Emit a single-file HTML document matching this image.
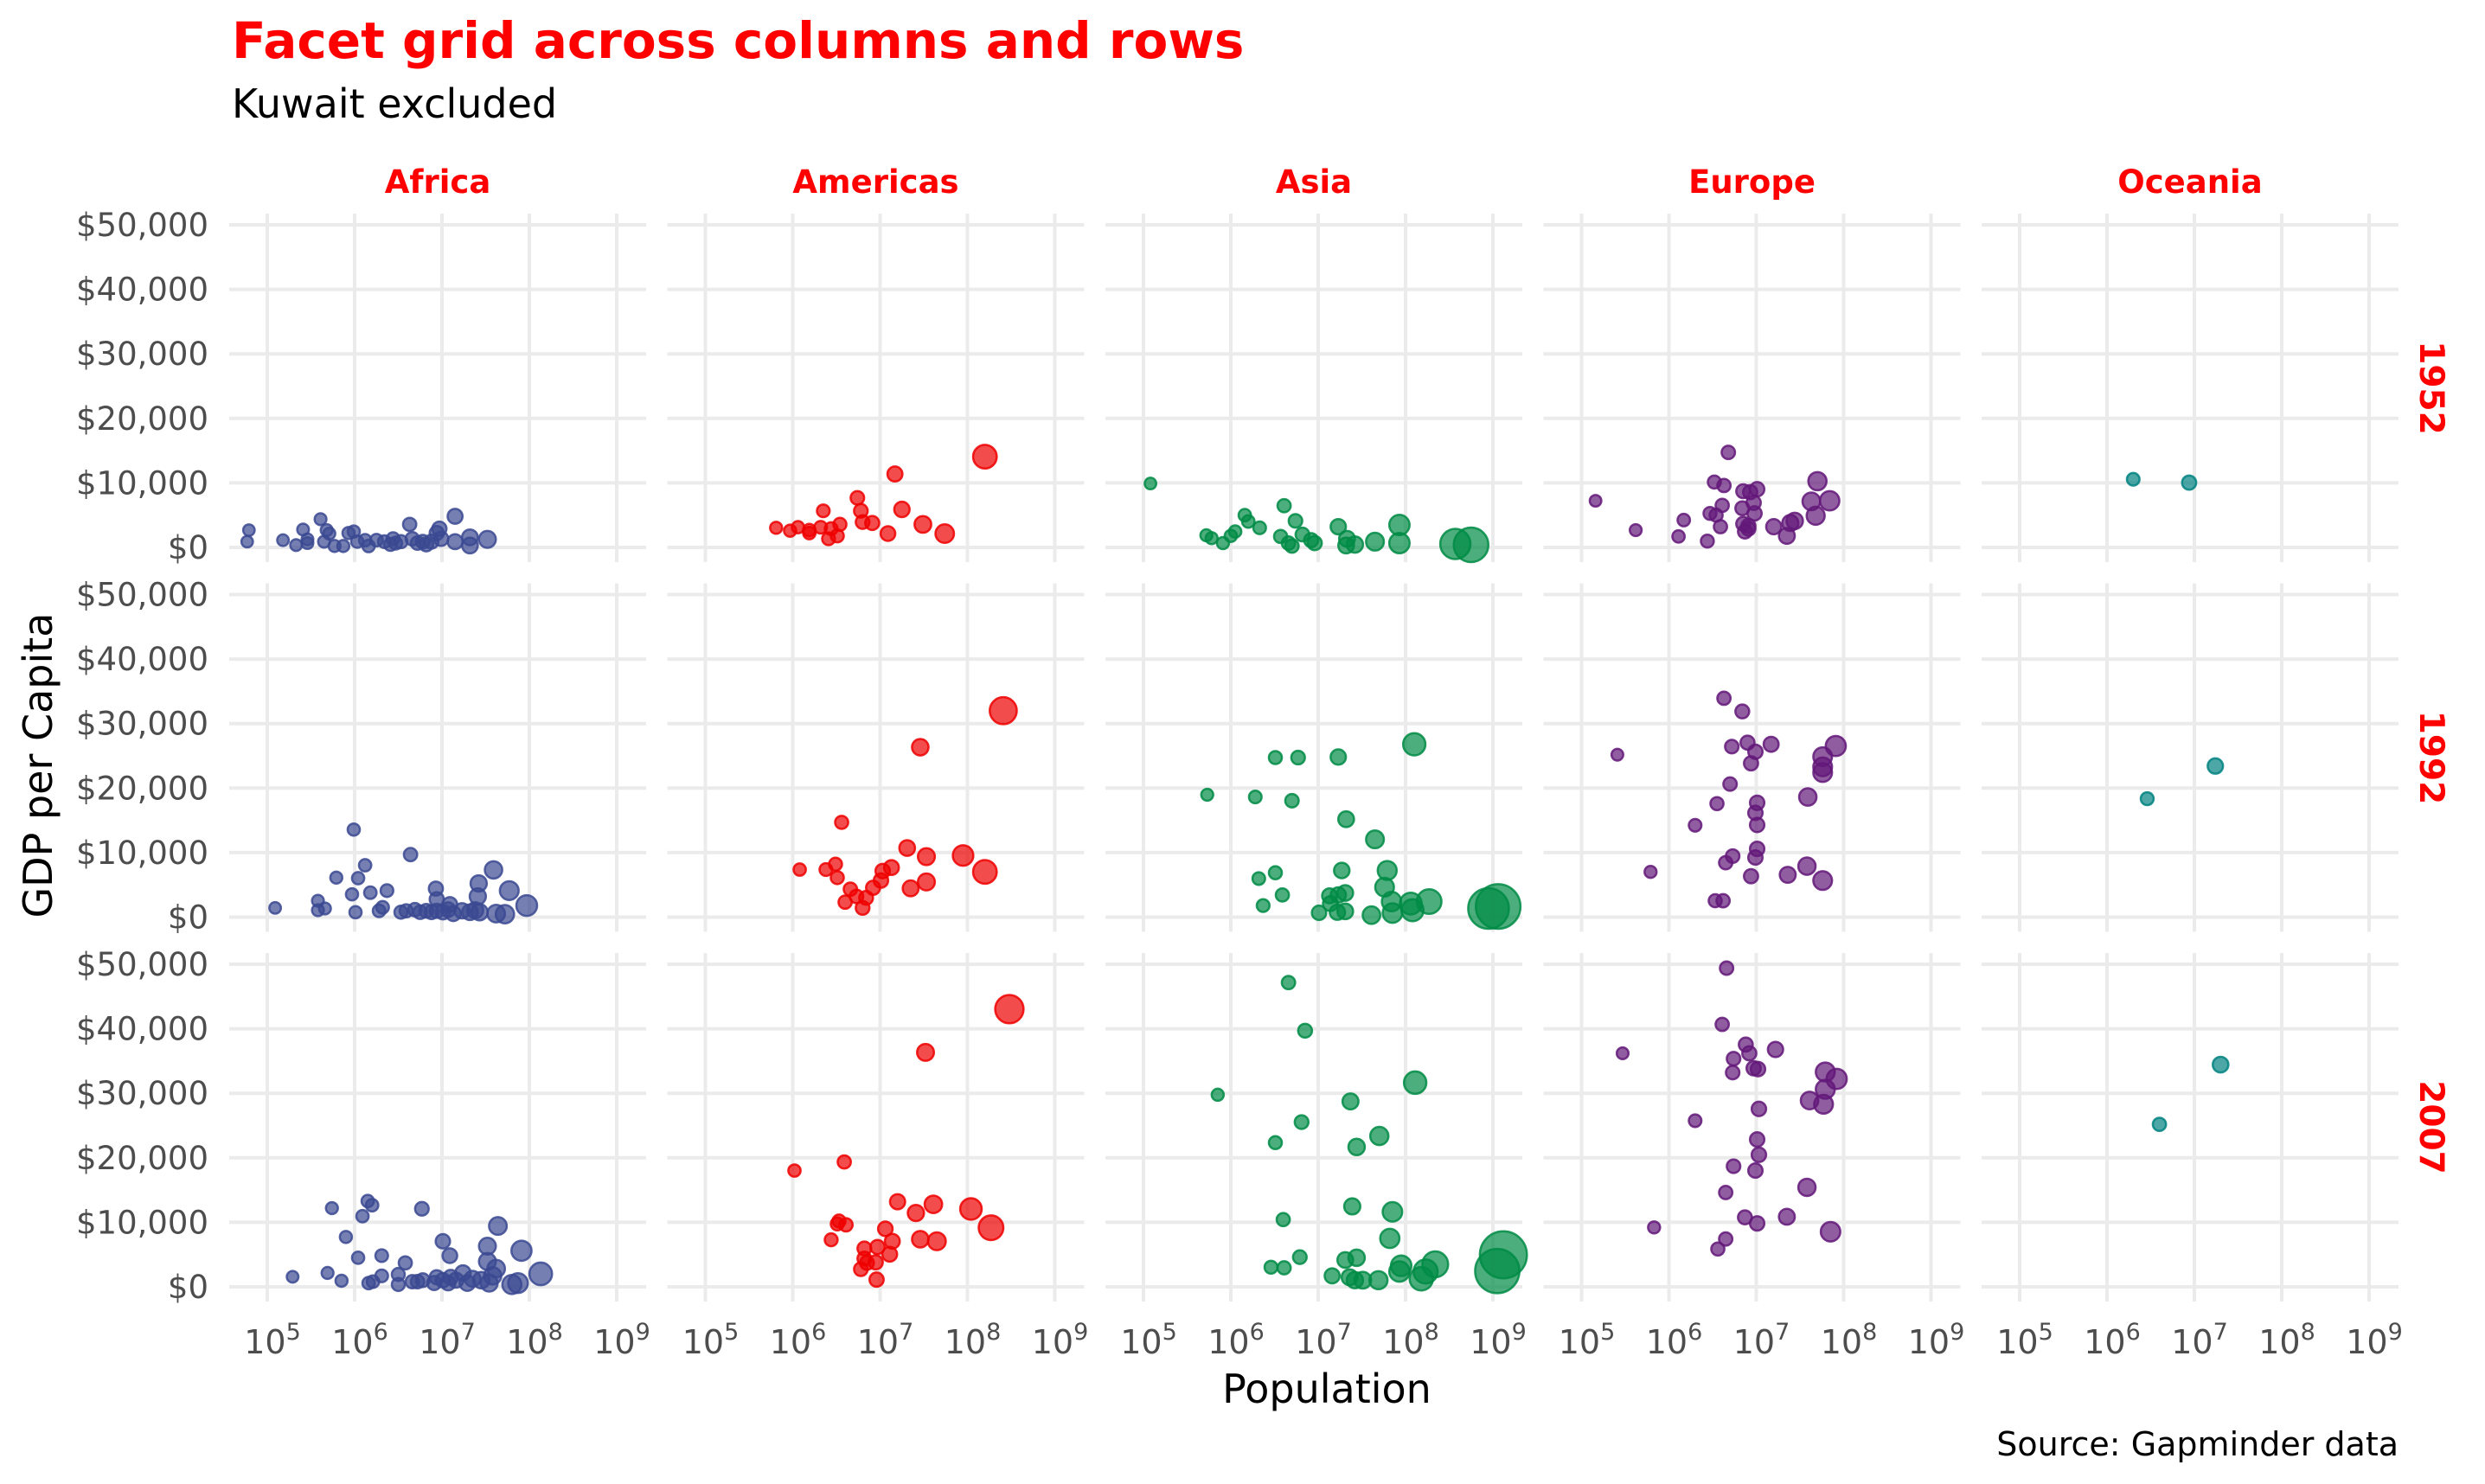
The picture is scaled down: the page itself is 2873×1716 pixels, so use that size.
<!DOCTYPE html>
<html><head><meta charset="utf-8">
<style>
html,body{margin:0;padding:0;background:#fff;}
svg{display:block;font-family:"DejaVu Sans","Liberation Sans",sans-serif;}
</style></head>
<body>
<svg id="chart" width="2873" height="1716" viewBox="0 0 2873 1716" xmlns="http://www.w3.org/2000/svg">
<rect width="2873" height="1716" fill="#fff"/>
<text x="268" y="67" font-size="58" font-weight="bold" fill="#FF0000">Facet grid across columns and rows</text>
<text x="268" y="136" font-size="46" fill="#000">Kuwait excluded</text>
<text x="1534" y="1622" font-size="46" fill="#000" text-anchor="middle">Population</text>
<text transform="translate(60,885) rotate(-90)" font-size="46" fill="#000" text-anchor="middle">GDP per Capita</text>
<text x="2773" y="1683" font-size="38" fill="#000" text-anchor="end">Source: Gapminder data</text>
<g id="panels"></g>
</svg>
<script>
const continents = ["Africa","Americas","Asia","Europe","Oceania"];
const years = ["1952","1992","2007"];
const colors = ["#3B4992","#EE0000","#008B45","#631879","#008280"];
const yTicks = [0,10000,20000,30000,40000,50000];
const yTickLabels = ["$0","$10,000","$20,000","$30,000","$40,000","$50,000"];
const xTickExp = [5,6,7,8,9];

// log10(population), GDP per capita in $1000s
const af1952Pop = [4.79,4.77,5.18,5.33,5.41,5.46,5.46,5.61,5.68,5.71,5.65,5.77,5.87,5.93,5.99,6.03,6.12,6.16,6.25,6.34,6.41,6.44,6.47,6.53,6.63,6.66,6.72,6.78,6.82,6.88,6.94,6.97,6.99,7.15,7.15,7.32,7.32,7.52];
const af1952Gdp = [2.68,0.89,1.12,0.36,2.77,1.25,0.67,4.38,2.68,2.14,0.89,0.22,0.22,2.23,2.46,0.89,1.12,0.22,1.12,0.89,0.45,1.34,0.67,0.89,3.57,1.34,0.67,0.89,0.45,0.89,2.23,2.9,1.34,4.82,0.89,1.56,0.3,1.25];
const am1952Pop = [8.20,7.17,6.74,6.78,7.25,6.35,6.80,6.91,6.54,7.49,7.74,7.09,5.81,5.97,6.06,6.19,6.32,6.41,6.44,6.51,6.19];
const am1952Gdp = [14.06,11.38,7.68,5.67,5.89,5.67,3.93,3.79,3.57,3.57,2.14,2.14,3.04,2.59,3.13,2.23,3.13,1.34,2.9,1.79,2.68];
const as1952Pop = [5.08,6.61,6.16,6.20,6.74,6.33,7.23,7.93,5.72,5.78,5.91,6.00,6.05,6.57,6.66,6.70,6.82,6.92,6.96,7.33,7.32,7.42,7.65,7.93,8.57,8.75];
const as1952Gdp = [9.91,6.47,5.0,4.02,4.11,3.04,3.21,3.48,1.88,1.43,0.67,1.79,2.46,1.70,0.67,0.22,2.0,1.12,0.67,1.34,0.3,0.45,0.89,0.67,0.54,0.4];
const eu1952Pop = [6.68,5.16,6.52,6.63,6.85,6.93,7.01,7.70,7.84,7.63,6.61,6.84,6.97,6.98,6.47,6.54,7.68,6.17,7.44,7.39,7.20,6.85,6.91,6.59,6.87,5.62,6.11,6.44,7.35,6.91];
const eu1952Gdp = [14.73,7.23,10.13,9.6,8.71,8.57,9.02,10.27,7.23,7.14,6.52,6.07,6.92,5.27,5.27,5.0,4.91,4.24,4.11,3.79,3.21,3.66,3.35,3.21,2.46,2.68,1.70,0.98,1.79,2.9];
const oc1952Pop = [6.30,6.94];
const oc1952Gdp = [10.56,10.04];

const af1992Pop = [5.09,5.58,5.58,5.66,5.99,6.64,6.12,5.79,6.04,5.97,6.18,6.37,6.01,6.28,6.32,6.53,6.59,6.69,6.75,6.82,6.88,6.94,7.01,7.07,7.13,7.23,7.32,7.38,7.43,6.93,6.94,7.09,7.42,7.41,7.59,7.77,7.62,7.72,7.97];
const af1992Gdp = [1.43,2.54,1.07,1.34,13.57,9.69,8.04,6.12,6.03,3.53,3.79,4.11,0.76,0.98,1.52,0.76,0.98,1.16,0.76,0.98,0.76,0.98,0.76,1.16,0.54,0.98,0.76,1.07,0.76,4.42,2.77,1.96,5.22,3.21,7.32,4.11,0.54,0.45,1.79];
const am1992Pop = [8.41,7.46,6.56,7.31,7.53,7.95,8.20,6.08,6.38,6.49,6.51,7.03,7.13,7.01,7.53,7.35,6.92,6.66,6.73,6.84,6.60,6.80];
const am1992Gdp = [32.0,26.34,14.69,10.71,9.38,9.55,7.01,7.37,7.37,8.21,6.12,7.14,7.68,5.67,5.45,4.46,4.55,4.33,3.21,2.99,2.32,1.43];
const as1992Pop = [8.10,6.51,6.77,7.23,5.73,6.28,6.70,7.32,7.65,6.51,6.32,7.27,7.79,7.76,6.59,6.37,7.13,7.23,7.31,7.14,7.22,7.31,7.01,7.61,7.84,7.85,8.06,8.08,8.27,8.95,9.06];
const as1992Gdp = [26.79,24.73,24.73,24.82,18.97,18.62,18.04,15.18,12.05,6.88,5.98,7.23,7.23,4.64,3.44,1.79,3.3,3.44,3.75,2.1,0.76,0.89,0.67,0.31,2.41,0.63,2.1,1.07,2.41,1.34,1.65];
const eu1992Pop = [6.63,6.84,5.41,6.72,6.90,6.99,7.17,6.94,7.91,7.76,7.76,7.76,6.70,7.59,6.55,7.01,6.99,7.01,6.30,7.01,6.99,6.73,6.65,5.79,6.94,7.36,7.58,7.76,6.53,6.62];
const eu1992Gdp = [33.93,31.88,25.18,26.43,27.05,25.63,26.79,23.84,26.52,24.87,23.3,22.41,20.63,18.62,17.59,17.72,16.16,14.29,14.24,10.58,9.24,9.46,8.44,7.01,6.34,6.56,7.9,5.67,2.54,2.54];
const oc1992Pop = [6.46,7.24];
const oc1992Gdp = [18.36,23.42];

const af2007Pop = [5.29,5.69,5.85,5.74,6.15,6.20,6.09,6.77,5.90,6.04,6.31,6.58,7.01,7.09,7.64,7.52,7.91,7.52,7.62,8.13,7.80,7.87,6.16,6.21,6.31,6.50,6.50,6.66,6.72,6.78,6.91,6.94,7.01,7.07,7.10,7.16,7.24,7.29,7.35,7.45,7.54,7.58];
const af2007Gdp = [1.56,2.15,0.94,12.2,13.3,12.65,10.95,12.1,7.73,4.51,4.83,3.71,7.06,4.83,9.43,6.3,5.59,3.93,2.82,2.01,0.36,0.58,0.58,0.8,1.7,1.92,0.36,0.8,0.8,1.03,0.58,1.48,1.03,0.58,1.48,1.03,2.15,0.58,1.25,1.03,0.58,1.7];
const am2007Pop = [8.48,7.52,6.59,6.02,7.20,7.61,8.04,7.41,8.27,6.53,6.51,6.61,7.06,6.44,7.14,7.46,7.65,6.82,6.97,7.11,6.82,6.85,6.95,6.78,6.96];
const am2007Gdp = [43.05,36.34,19.36,18.02,13.19,12.79,12.07,11.44,9.16,10.19,9.75,9.61,8.99,7.29,7.06,7.38,7.06,5.95,6.17,5.05,4.38,3.71,3.8,2.73,1.12];
const as2007Pop = [6.66,6.85,5.85,8.11,7.37,6.81,6.51,7.44,7.70,7.39,7.85,6.60,7.82,6.79,6.46,6.61,7.31,7.44,7.16,7.36,7.42,7.51,7.69,7.95,7.93,8.18,8.34,8.23,9.12,9.05];
const as2007Gdp = [47.16,39.7,29.77,31.65,28.74,25.53,22.35,21.68,23.38,12.47,11.62,10.42,7.51,4.6,3.04,2.95,4.16,4.51,1.7,1.48,1.03,1.03,1.03,3.26,2.37,1.25,3.49,2.37,4.96,2.45];
const eu2007Pop = [6.66,6.61,5.47,6.88,6.92,7.22,6.74,6.73,6.97,7.02,7.79,7.92,7.79,7.61,7.77,7.03,6.30,7.01,7.03,6.74,6.99,7.58,6.65,6.87,7.01,7.35,5.83,7.85,6.65,6.56];
const eu2007Gdp = [49.4,40.68,36.2,37.55,36.2,36.79,35.36,33.21,33.88,33.75,33.3,32.23,30.62,28.88,28.3,27.58,25.75,22.84,20.47,18.69,18.02,15.42,14.62,10.77,9.83,10.86,9.21,8.54,7.42,5.86];
const oc2007Pop = [7.30,6.60];
const oc2007Gdp = [34.44,25.19];

const popSeries = [
  [af1952Pop,am1952Pop,as1952Pop,eu1952Pop,oc1952Pop],
  [af1992Pop,am1992Pop,as1992Pop,eu1992Pop,oc1992Pop],
  [af2007Pop,am2007Pop,as2007Pop,eu2007Pop,oc2007Pop]];
const gdpSeries = [
  [af1952Gdp,am1952Gdp,as1952Gdp,eu1952Gdp,oc1952Gdp],
  [af1992Gdp,am1992Gdp,as1992Gdp,eu1992Gdp,oc1992Gdp],
  [af2007Gdp,am2007Gdp,as2007Gdp,eu2007Gdp,oc2007Gdp]];

const NS = "http://www.w3.org/2000/svg";
const PANEL_LEFT0 = 265, PANEL_PITCH_X = 506.5, PANEL_W = 482;
const PANEL_TOP0 = 247, PANEL_PITCH_Y = 427.5, PANEL_H = 403;
function xScale(col, lp){ return PANEL_LEFT0 + col*PANEL_PITCH_X + 44 + (lp-5)*101; }
function yScale(row, g){ return PANEL_TOP0 + row*PANEL_PITCH_Y + 13 + (50000-g)*373/50000; }
function rScale(lp){ return 6.5 + 0.00057*Math.sqrt(Math.pow(10,lp)); }
function mk(tag, attrs){ const e=document.createElementNS(NS,tag); for(const k in attrs) e.setAttribute(k,attrs[k]); return e; }

const root = document.getElementById('panels');
for(let r=0;r<years.length;r++){
  for(let c=0;c<continents.length;c++){
    const g = mk('g',{});
    
    
    const left = PANEL_LEFT0 + c*PANEL_PITCH_X, top = PANEL_TOP0 + r*PANEL_PITCH_Y;
    for(const t of yTicks){
      const y = yScale(r,t);
      const ln = mk('line',{x1:left,x2:left+PANEL_W,y1:y,y2:y,stroke:'#EBEBEB','stroke-width':4});
      
      
      g.appendChild(ln);
    }
    for(const e of xTickExp){
      const x = xScale(c,e);
      const ln = mk('line',{x1:x,x2:x,y1:top,y2:top+PANEL_H,stroke:'#EBEBEB','stroke-width':4});
      
      
      g.appendChild(ln);
    }
    const P = popSeries[r][c], G = gdpSeries[r][c];
    const idx = P.map((v,i)=>i).sort((a,b)=>P[b]-P[a]);
    for(const i of idx){
      const cc = mk('circle',{cx:xScale(c,P[i]),cy:yScale(r,G[i]*1000),r:rScale(P[i]),fill:colors[c],'fill-opacity':0.7,stroke:colors[c],'stroke-opacity':0.85,'stroke-width':2.5});
      
      
      g.appendChild(cc);
    }
    root.appendChild(g);
    if(r===0){
      const s = mk('text',{x:left+PANEL_W/2,y:223,'font-size':37,'font-weight':'bold',fill:'#FF0000','text-anchor':'middle'});
      s.textContent = continents[c];
      
      
      root.appendChild(s);
    }
    if(c===0){
      for(let k=0;k<yTicks.length;k++){
        const t = mk('text',{x:241,y:yScale(r,yTicks[k])+13,'font-size':37,fill:'#4D4D4D','text-anchor':'end'});
        t.textContent = yTickLabels[k];
        
        
        root.appendChild(t);
      }
    }
    if(r===years.length-1){
      for(const e of xTickExp){
        const t = mk('text',{x:xScale(c,e)+6,y:1565,'font-size':38,fill:'#4D4D4D','text-anchor':'middle'});
        t.textContent = '10';
        const sup = mk('tspan',{'font-size':27,dy:-16});
        sup.textContent = String(e);
        t.appendChild(sup);
        
        
        root.appendChild(t);
      }
    }
  }
  const rl = mk('text',{transform:'translate(2798,'+(PANEL_TOP0 + r*PANEL_PITCH_Y + PANEL_H/2)+') rotate(90)','font-size':39,'font-weight':'bold',fill:'#FF0000','text-anchor':'middle'});
  rl.textContent = years[r];
  
  
  root.appendChild(rl);
}
</script>
</body></html>
